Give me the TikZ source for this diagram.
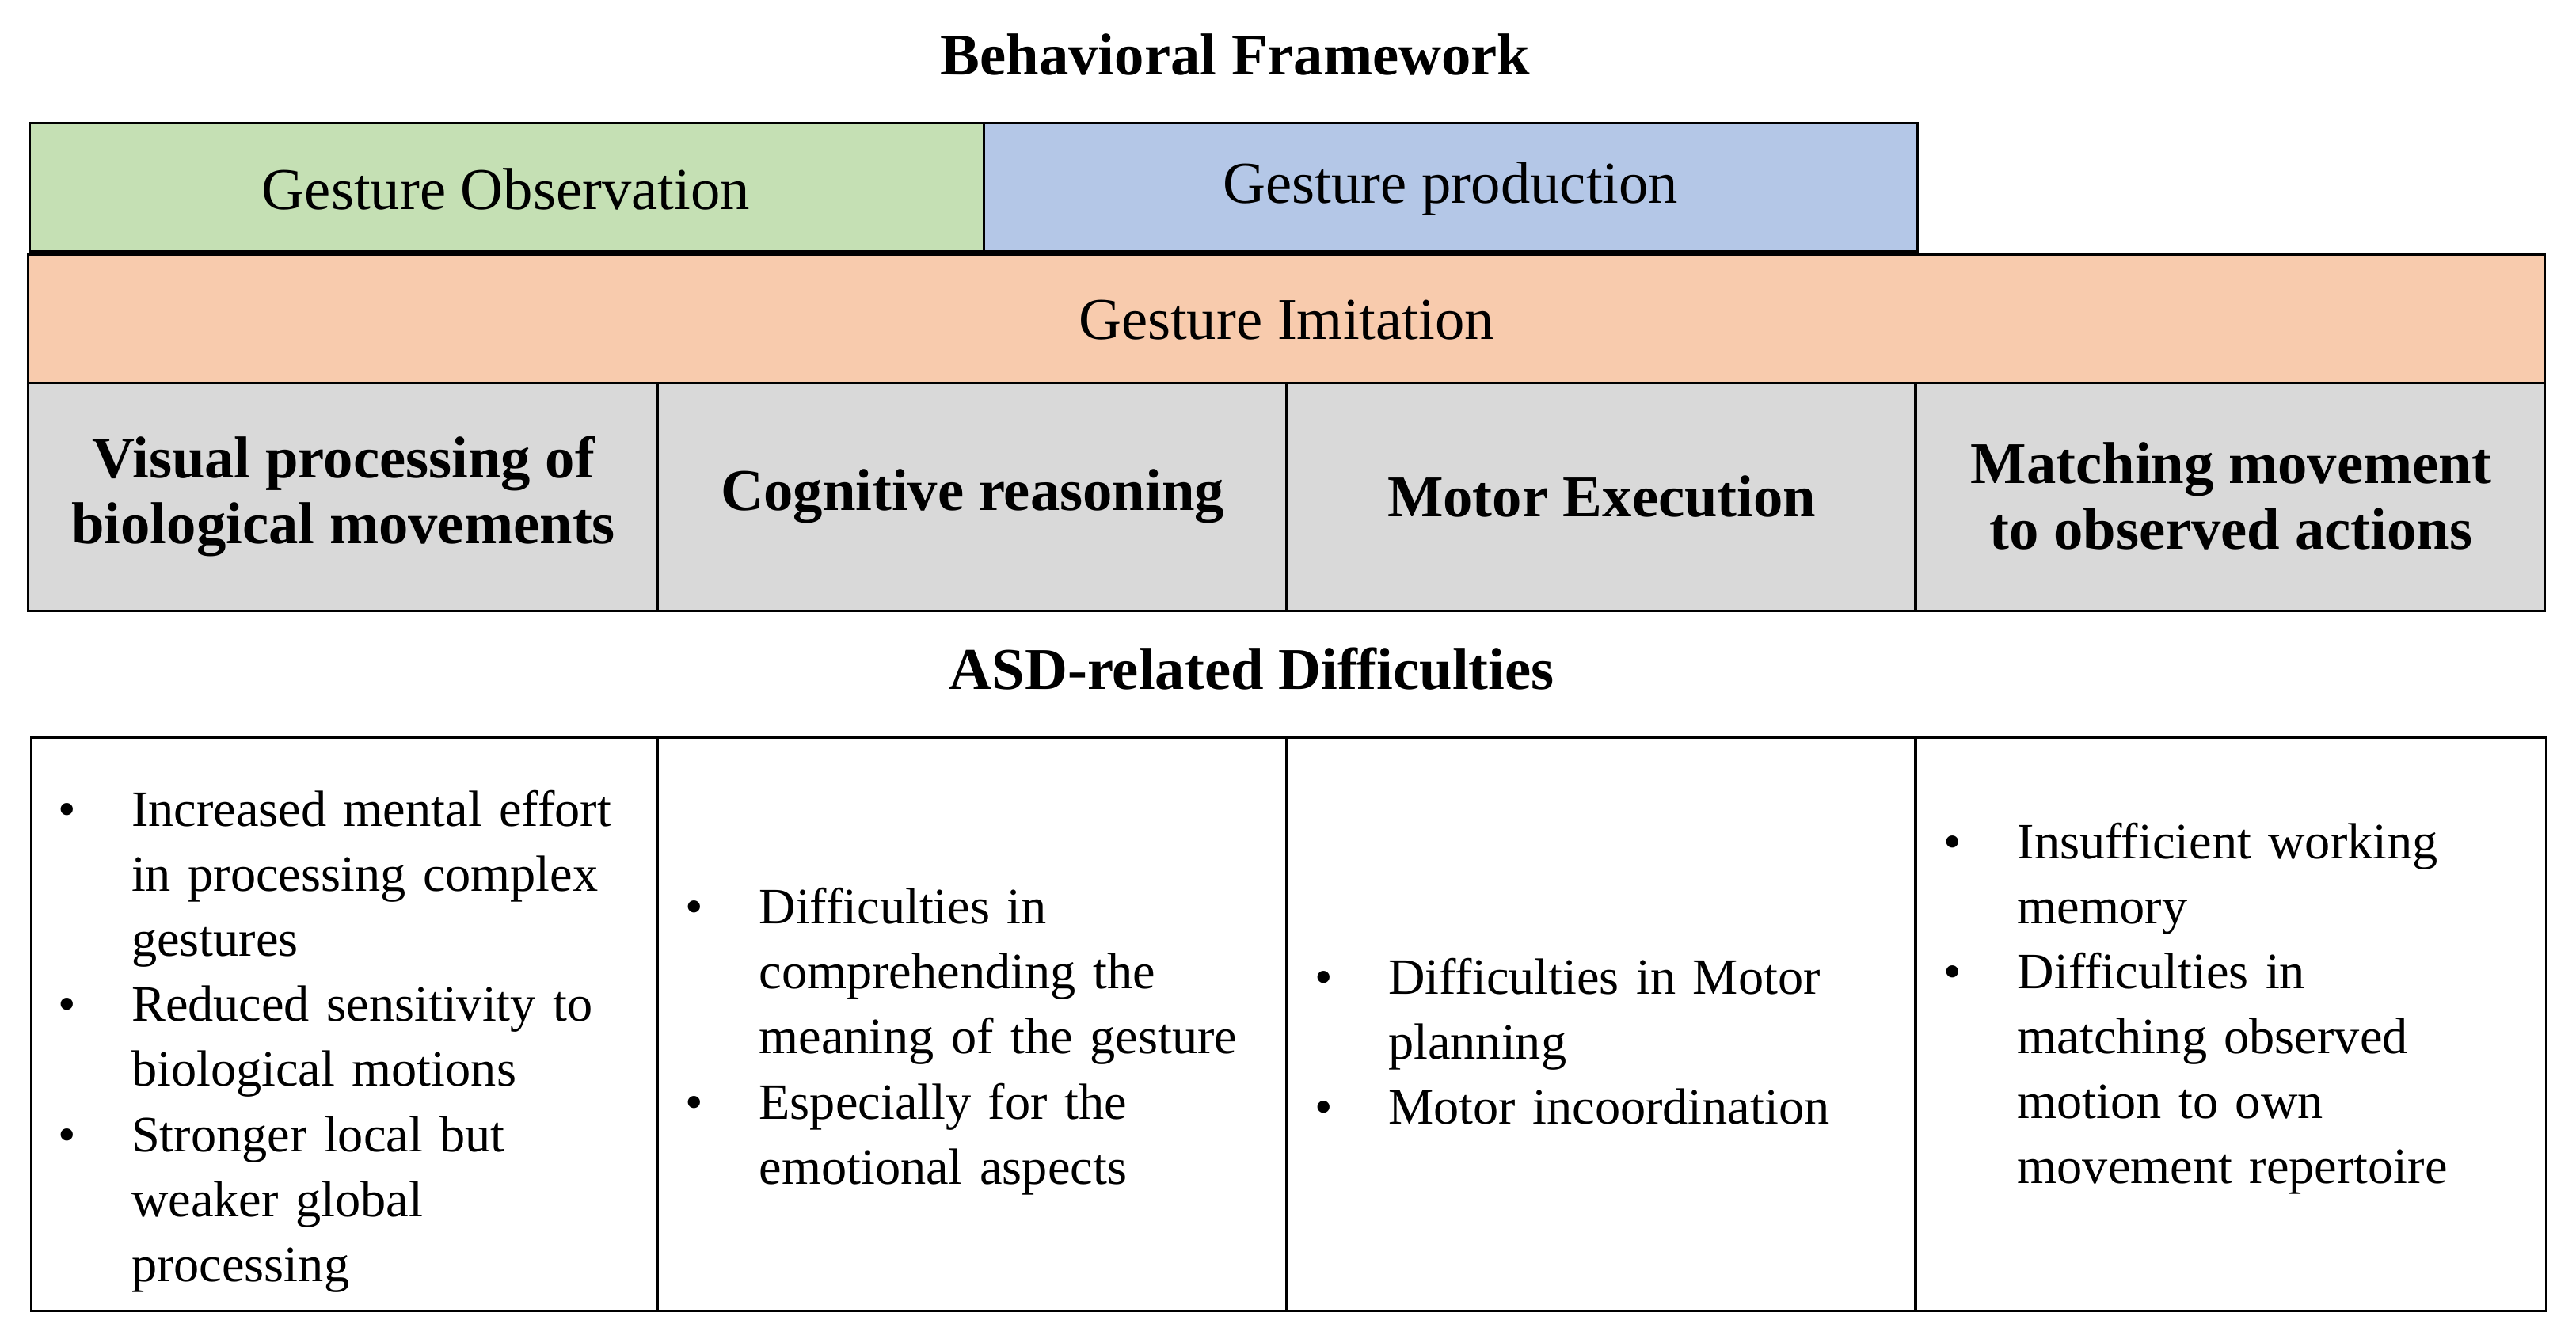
\documentclass[tikz,border=0pt]{standalone}
\usepackage{fontspec}
\setmainfont{Liberation Serif}
\usepackage{enumitem}
\definecolor{obsgreen}{HTML}{C5E0B4}
\definecolor{prodblue}{HTML}{B4C7E7}
\definecolor{imitorange}{HTML}{F8CBAD}
\definecolor{stepgray}{HTML}{D9D9D9}
\tikzset{
  box/.style={draw, line width=0.8pt, inner sep=0pt},
  head/.style={font=\fontsize{18}{20}\selectfont\bfseries, align=center},
  band/.style={font=\fontsize{18}{20}\selectfont},
  list/.style={text width=182pt, font=\fontsize{15.5}{19.8}\selectfont, align=left}
}
\newcommand{\bul}[1]{\begin{itemize}[leftmargin=30pt,labelsep=17pt,itemsep=0pt,topsep=0pt,parsep=0pt,partopsep=0pt]#1\end{itemize}}
\begin{document}
\begin{tikzpicture}[x=0.5pt,y=-0.5pt]
\useasboundingbox (0,0) rectangle (1568,815);
\node[head] (title) at (752,33) {Behavioral Framework};
% top bands
\draw[box, fill=obsgreen] (18,75) rectangle (599,153);
\node[band] (obs) at (308,115) {Gesture Observation};
\draw[box, fill=prodblue] (599,75) rectangle (1167,153);
\node[band] (prod) at (883,115) {Gesture production};
\draw[box, fill=imitorange] (17,155) rectangle (1549,233);
\node[band] (imit) at (783,195) {Gesture Imitation};
% process steps
\foreach \a/\b in {17/400,400/783,783/1166,1166/1549}
  \draw[box, fill=stepgray] (\a,233) rectangle (\b,372);
\node[head] (visual) at (209,302) {Visual processing of\\biological movements};
\node[head] (cogn) at (592,302) {Cognitive reasoning};
\node[head] (motor) at (975,302) {Motor Execution};
\node[head] (match) at (1358,302) {Matching movement\\to observed actions};
\node[head] (asd) at (762,407) {ASD-related Difficulties};
% difficulties
\foreach \a/\b in {19/400,400/783,783/1166,1166/1550}
  \draw[box] (\a,449) rectangle (\b,798);
\node[list, anchor=west] (dvis) at (13,625) {\bul{\item Increased mental effort in processing complex gestures
  \item Reduced sensitivity to biological motions
  \item Stronger local but weaker global processing}};
\node[list, anchor=west] (dcog) at (395,625) {\bul{\item Difficulties in comprehending the meaning of the gesture
  \item Especially for the emotional aspects}};
\node[list, anchor=west] (dmot) at (778,625) {\bul{\item Difficulties in Motor planning
  \item Motor incoordination}};
\node[list, anchor=west] (dmat) at (1161,605) {\bul{\raggedright\item Insufficient working memory
  \item Difficulties in\\ matching observed\\ motion to own\\ movement repertoire}};
\end{tikzpicture}
\end{document}
